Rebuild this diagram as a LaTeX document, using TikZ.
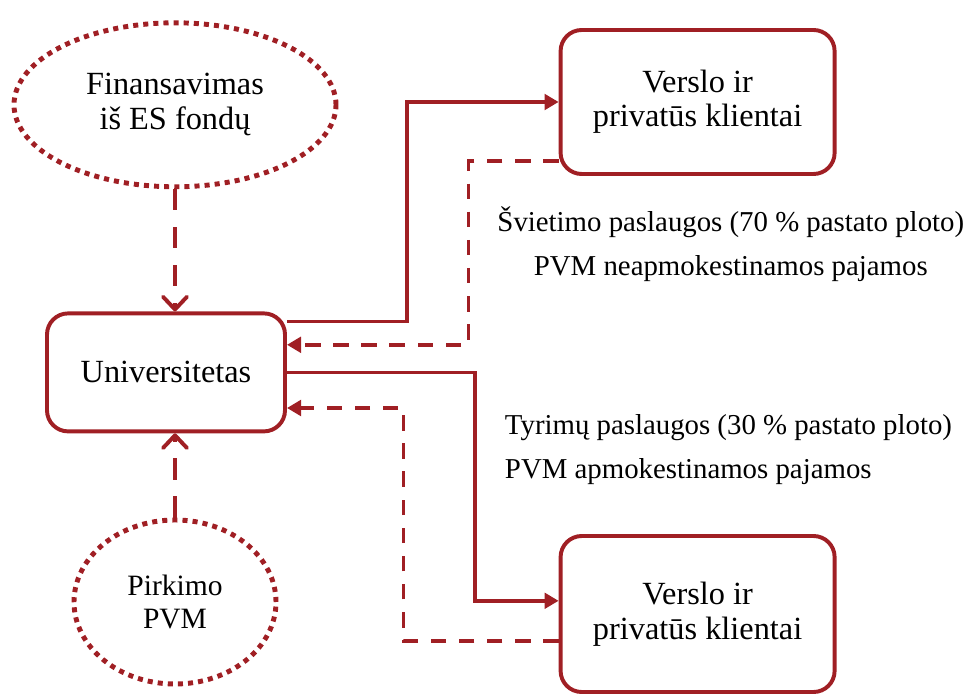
\documentclass[tikz,border=0pt]{standalone}
\usepackage{fontspec}
\setmainfont{Liberation Serif}
\usepackage{tikz}
\usetikzlibrary{arrows.meta,shapes.geometric,positioning}
\definecolor{rust}{HTML}{A01F24}
\tikzset{
  box/.style={draw=rust, line width=2.8pt, rounded corners=15pt, fill=white,
    align=center, font=\fontsize{23}{24.5}\selectfont},
  cloud/.style={ellipse, draw=rust, line width=3.5pt, dash pattern=on 3.6pt off 3.6pt,
    align=center, inner sep=0pt},
  flow/.style={draw=rust, line width=2.6pt, -{Triangle[length=10pt,width=11pt]}},
  back/.style={draw=rust, line width=2.6pt, dash pattern=on 11pt off 9pt,
    -{Triangle[length=10pt,width=11pt]}},
  fund/.style={draw=rust, line width=2.8pt, dash pattern=on 15pt off 12pt,
    -{Straight Barb[length=9pt,width=17pt,round]}},
  lab/.style={font=\fontsize{20.5}{31.3}\selectfont}
}
\begin{document}
\begin{tikzpicture}
  \useasboundingbox (0,0) rectangle (24.2,17.4);

  % nodes
  \node[box, minimum width=5.95cm, minimum height=2.95cm] (uni) at (4.15,8.09) {Universitetas};
  \node[box, minimum width=6.85cm, minimum height=3.6cm] (vers1) at (17.44,14.85) {Verslo ir\\privatūs klientai};
  \node[box, minimum width=6.85cm, minimum height=3.9cm] (vers2) at (17.44,2.05) {Verslo ir\\privatūs klientai};
  \node[cloud, minimum width=8.05cm, minimum height=4.1cm,
    font=\fontsize{23}{25}\selectfont] (fin) at (4.375,14.78) {Finansavimas\\iš ES fondų};
  \node[cloud, minimum width=5.05cm, minimum height=4.1cm,
    font=\fontsize{21}{23}\selectfont] (pvm) at (4.375,2.35) {Pirkimo\\PVM};

  % labels
  \node[lab, align=center] (edu) at (18.27,11.3)
    {Švietimo paslaugos (70 \% pastato ploto)\\PVM neapmokestinamos pajamos};
  \node[lab, align=left, anchor=west] (res) at (12.5,6.15)
    {Tyrimų paslaugos (30 \% pastato ploto)\\PVM apmokestinamos pajamos};

  % connectors
  \draw[fund] (fin.south) -- (fin.south |- uni.north);
  \draw[fund] (pvm.north) -- (pvm.north |- uni.south);
  \draw[flow] ([yshift=-0.25cm]uni.north east) -- ++(3.0,0) |- (vers1.west);
  \draw[back] ([yshift=0.37cm]vers1.south west) -- ++(-2.25,0) |- ([yshift=0.69cm]uni.east);
  \draw[flow] (uni.east) -- ++(4.7,0) |- ([yshift=0.33cm]vers2.west);
  \draw[back] ([yshift=-0.68cm]vers2.west) -- ++(-3.875,0) |- ([yshift=-0.89cm]uni.east);
\end{tikzpicture}
\end{document}
